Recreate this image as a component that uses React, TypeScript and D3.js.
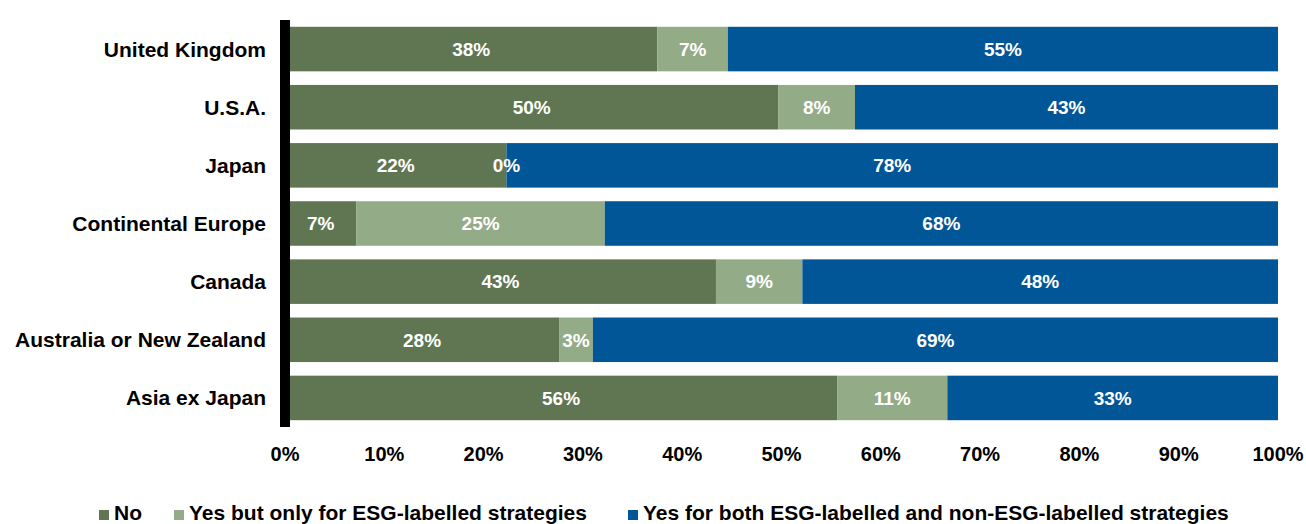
import React from "react";
import * as d3 from "d3";

const categories = [
  "United Kingdom",
  "U.S.A.",
  "Japan",
  "Continental Europe",
  "Canada",
  "Australia or New Zealand",
  "Asia ex Japan",
];
const seriesNames = [
  "No",
  "Yes but only for ESG-labelled strategies",
  "Yes for both ESG-labelled and non-ESG-labelled strategies",
];
const noValues = [37.5, 49.7, 22.3, 7.2, 43.4, 27.6, 55.6];
const esgOnlyValues = [7.1, 7.7, 0, 25.0, 8.7, 3.4, 11.1];
const bothValues = [55.4, 42.6, 77.7, 67.8, 47.9, 69.0, 33.3];
const xTicks = [0, 10, 20, 30, 40, 50, 60, 70, 80, 90, 100];
const colors = ["#607652", "#93AB87", "#005697"];

const W = 1306;
const H = 524;
const font = "Arial, 'Liberation Sans', Helvetica, sans-serif";

export default function App() {
  const x = d3.scaleLinear().domain([0, 100]).range([285, 1278]);
  const y = d3
    .scaleBand<string>()
    .domain(categories)
    .range([20, 427])
    .paddingInner(0.234)
    .paddingOuter(0.117);

  const table = categories.map((c, i) => ({
    cat: c,
    v0: noValues[i],
    v1: esgOnlyValues[i],
    v2: bothValues[i],
  }));
  const stack = d3.stack<any>().keys(["v0", "v1", "v2"])(table);

  const legendItems = [
    { sx: 99, tx: 114 },
    { sx: 174, tx: 189 },
    { sx: 628, tx: 643 },
  ];

  return (
    <svg
      width={W}
      height={H}
      style={{ position: "absolute", left: 0, top: 0 }}
      fontFamily={font}
    >
      <rect x={0} y={0} width={W} height={H} fill="#fff" />
      {stack.map((layer, si) => (
        <g key={si}>
          {layer.map((d, i) => {
            const x0 = x(d[0]);
            const x1 = x(d[1]);
            const yy = y(categories[i])!;
            return (
              <rect
                key={i}
                x={x0}
                y={yy}
                width={Math.max(0, x1 - x0)}
                height={y.bandwidth()}
                fill={colors[si]}
              />
            );
          })}
        </g>
      ))}
      {stack.map((layer, si) => (
        <g key={"l" + si}>
          {layer.map((d, i) => {
            const cx = (x(d[0]) + x(d[1])) / 2;
            const cy = y(categories[i])! + y.bandwidth() / 2;
            return (
              <text
                key={i}
                x={cx}
                y={cy}
                dy="0.36em"
                textAnchor="middle"
                fill="#fff"
                fontWeight="bold"
                fontSize={19}
              >
                {Math.round(d[1] - d[0]) + "%"}
              </text>
            );
          })}
        </g>
      ))}
      <rect x={280} y={20} width={10} height={407} fill="#000" />
      {categories.map((c) => (
        <text
          key={c}
          x={266}
          y={y(c)! + y.bandwidth() / 2}
          dy="0.36em"
          textAnchor="end"
          fontWeight="bold"
          fontSize={21}
          fill="#000"
        >
          {c}
        </text>
      ))}
      {xTicks.map((t) => (
        <text
          key={t}
          x={x(t)}
          y={461}
          textAnchor="middle"
          fontWeight="bold"
          fontSize={20}
          fill="#000"
        >
          {t + "%"}
        </text>
      ))}
      {seriesNames.map((n, i) => (
        <g key={n}>
          <rect x={legendItems[i].sx} y={510} width={10} height={10} fill={colors[i]} />
          <text
            x={legendItems[i].tx}
            y={520}
            fontWeight="bold"
            fontSize={21}
            fill="#000"
          >
            {n}
          </text>
        </g>
      ))}
    </svg>
  );
}
